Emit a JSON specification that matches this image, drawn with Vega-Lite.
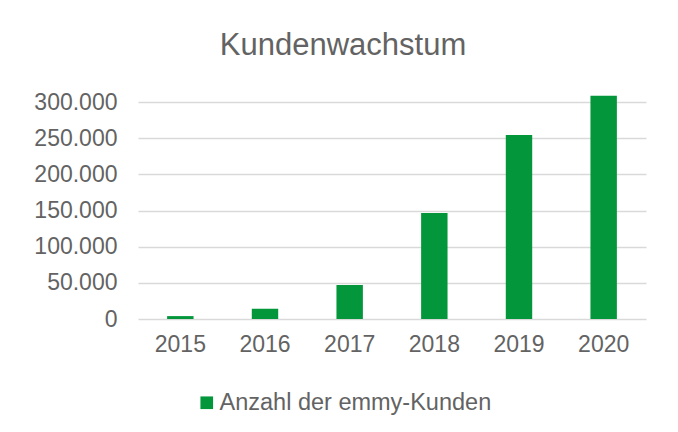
{
  "$schema": "https://vega.github.io/schema/vega-lite/v6.json",
  "autosize": {"type": "none"},
  "width": 508,
  "height": 217,
  "padding": {"left": 138, "top": 102, "right": 32, "bottom": 113},
  "background": "white",
  "title": {
    "text": "Kundenwachstum",
    "font": "Liberation Sans",
    "fontSize": 31,
    "fontWeight": "normal",
    "color": "#636363",
    "anchor": "middle",
    "frame": "group",
    "dx": -49,
    "offset": 29
  },
  "data": {
    "values": [
      {"Jahr": "2015", "Kunden": 4000, "Serie": "Anzahl der emmy-Kunden"},
      {"Jahr": "2016", "Kunden": 14000, "Serie": "Anzahl der emmy-Kunden"},
      {"Jahr": "2017", "Kunden": 47000, "Serie": "Anzahl der emmy-Kunden"},
      {"Jahr": "2018", "Kunden": 146500, "Serie": "Anzahl der emmy-Kunden"},
      {"Jahr": "2019", "Kunden": 254500, "Serie": "Anzahl der emmy-Kunden"},
      {"Jahr": "2020", "Kunden": 308500, "Serie": "Anzahl der emmy-Kunden"}
    ]
  },
  "mark": {"type": "bar", "clip": false},
  "encoding": {
    "x": {
      "field": "Jahr",
      "type": "ordinal",
      "scale": {"paddingInner": 0.688, "paddingOuter": 0.344},
      "axis": {
        "title": null,
        "labelAngle": 0,
        "ticks": false,
        "domain": false,
        "labelPadding": 14,
        "labelFontSize": 23,
        "labelFont": "Liberation Sans",
        "labelColor": "#636363"
      }
    },
    "y": {
      "field": "Kunden",
      "type": "quantitative",
      "scale": {"domain": [0, 300000], "nice": false},
      "axis": {
        "title": null,
        "values": [0, 50000, 100000, 150000, 200000, 250000, 300000],
        "format": ",d",
        "ticks": false,
        "domain": false,
        "labelPadding": 21,
        "labelFontSize": 23,
        "labelFont": "Liberation Sans",
        "labelColor": "#636363",
        "gridColor": "#D9D9D9",
        "gridWidth": 1.5
      }
    },
    "color": {
      "field": "Serie",
      "type": "nominal",
      "scale": {"range": ["#03963A"]},
      "legend": {
        "title": null,
        "orient": "none",
        "legendX": 57,
        "legendY": 289,
        "direction": "horizontal",
        "symbolType": "square",
        "symbolSize": 160,
        "symbolStrokeWidth": 0,
        "labelFontSize": 23.5,
        "labelFont": "Liberation Sans",
        "labelColor": "#636363",
        "labelOffset": 1,
        "labelLimit": 400,
        "padding": 0
      }
    }
  },
  "config": {
    "locale": {
      "number": {"decimal": ",", "thousands": ".", "grouping": [3], "currency": ["", " €"]}
    },
    "view": {"stroke": null}
  }
}
